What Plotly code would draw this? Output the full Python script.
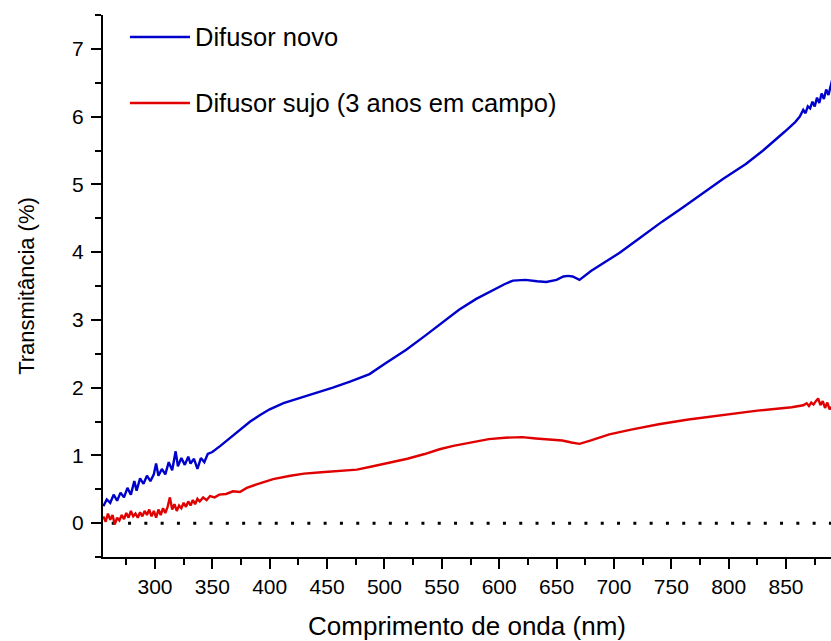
import plotly.graph_objects as go

# --- Data ---
novo_x = [255, 258, 261, 264, 267, 270, 273, 276, 279, 282, 284, 287, 290, 293, 296, 299,
          301, 303, 306, 309, 312, 315, 318, 320, 323, 326, 329, 331, 334, 337, 340, 343,
          346, 350, 357, 365, 374, 383, 392, 400, 412, 425, 441, 455, 470, 480, 487, 500,
          519, 535, 548, 565, 580, 594, 605, 612, 623, 633, 641, 650, 656, 660, 664, 670,
          680, 693, 705, 722, 742, 760, 777, 795, 815, 830, 849, 858, 862, 865, 867, 869,
          871, 873, 875, 877, 879, 881, 883, 885, 887, 889, 891]
novo_y = [0.25, 0.35, 0.30, 0.42, 0.33, 0.45, 0.38, 0.52, 0.42, 0.62, 0.48, 0.66, 0.58, 0.70, 0.62, 0.72,
          0.88, 0.70, 0.80, 0.72, 0.90, 0.78, 1.06, 0.84, 0.96, 0.86, 0.98, 0.88, 0.95, 0.80, 0.96, 0.90,
          1.02, 1.05, 1.14, 1.25, 1.38, 1.50, 1.60, 1.68, 1.77, 1.84, 1.92, 2.00, 2.09, 2.16, 2.20, 2.35,
          2.56, 2.76, 2.93, 3.15, 3.31, 3.44, 3.53, 3.58, 3.59, 3.57, 3.56, 3.59, 3.64, 3.65, 3.64, 3.59,
          3.72, 3.86, 3.99, 4.20, 4.45, 4.66, 4.86, 5.08, 5.30, 5.50, 5.78, 5.92, 6.00, 6.10, 6.05, 6.15,
          6.12, 6.22, 6.15, 6.28, 6.20, 6.34, 6.26, 6.40, 6.32, 6.45, 6.60]

sujo_x = [255, 257, 259, 261, 263, 265, 267, 269, 271, 273, 275, 277, 279, 281, 283, 285, 287,
          289, 291, 293, 295, 297, 299, 301, 303, 305, 307, 309, 311, 313, 315, 317, 319, 321,
          323, 325, 327, 329, 331, 333, 335, 337, 339, 342, 345, 348, 352, 356, 362, 368, 374,
          380, 390, 403, 418, 430, 445, 460, 476, 490, 505, 520, 535, 548, 560, 575, 591, 605,
          620, 632, 645, 655, 663, 670, 680, 696, 715, 739, 765, 797, 825, 855, 865, 868, 870,
          872, 874, 876, 878, 880, 882, 884, 886, 888, 890]
sujo_y = [0.10, 0.02, 0.14, 0.05, 0.12, -0.02, 0.08, 0.04, 0.12, 0.06, 0.15, 0.08, 0.18, 0.10, 0.14, 0.08, 0.16,
          0.10, 0.18, 0.12, 0.20, 0.10, 0.18, 0.08, 0.20, 0.12, 0.22, 0.15, 0.24, 0.38, 0.20, 0.28, 0.18, 0.26,
          0.22, 0.30, 0.24, 0.32, 0.26, 0.34, 0.28, 0.36, 0.32, 0.38, 0.34, 0.40, 0.38, 0.42, 0.43, 0.47, 0.46,
          0.52, 0.58, 0.65, 0.70, 0.73, 0.75, 0.77, 0.79, 0.84, 0.89, 0.95, 1.02, 1.09, 1.14, 1.19, 1.24, 1.26,
          1.27, 1.25, 1.23, 1.22, 1.19, 1.17, 1.22, 1.31, 1.38, 1.46, 1.53, 1.60, 1.66, 1.71, 1.74, 1.77, 1.73,
          1.78, 1.75, 1.80, 1.84, 1.74, 1.80, 1.70, 1.78, 1.68, 1.72]

labels = ["Difusor novo", "Difusor sujo (3 anos em campo)"]
colors = ["#0000CC", "#E00000"]

FONT = "Liberation Sans, Arial, sans-serif"

fig = go.Figure()
fig.add_trace(go.Scatter(x=novo_x, y=novo_y, mode="lines", name=labels[0],
                         line=dict(color=colors[0], width=2.4), showlegend=False))
fig.add_trace(go.Scatter(x=sujo_x, y=sujo_y, mode="lines", name=labels[1],
                         line=dict(color=colors[1], width=2.4), showlegend=False))

# dotted zero line
fig.add_shape(type="line", xref="paper", yref="y", x0=0.012, x1=1, y0=0, y1=0,
              line=dict(color="black", width=3, dash="3px,13.3px"), layer="below")

# manual legend
leg_y = [0.9594, 0.8376]
for lab, col, yy in zip(labels, colors, leg_y):
    fig.add_shape(type="line", xref="paper", yref="paper", x0=0.037, x1=0.1195, y0=yy, y1=yy,
                  line=dict(color=col, width=2.4))
    fig.add_annotation(xref="paper", yref="paper", x=0.124, y=yy, text=lab, showarrow=False,
                       xanchor="left", yanchor="middle", font=dict(size=25.5, color="black", family=FONT))

axis_common = dict(showline=True, linecolor="black", linewidth=2, ticks="outside",
                   ticklen=10, tickwidth=2, tickcolor="black", showgrid=False, zeroline=False,
                   mirror=False, tickfont=dict(size=21, color="black", family=FONT))

fig.update_xaxes(range=[254.7, 889.2], tick0=300, dtick=50,
                 minor=dict(ticks="outside", ticklen=6, tickwidth=2, tickcolor="black", dtick=25, tick0=275),
                 title=dict(text="Comprimento de onda (nm)", font=dict(size=26, color="black", family=FONT),
                            standoff=25),
                 **axis_common)
fig.update_yaxes(range=[-0.5, 7.5], tick0=0, dtick=1, ticklabelstandoff=3,
                 minor=dict(ticks="outside", ticklen=6, tickwidth=2, tickcolor="black", dtick=0.5, tick0=0),
                 title=dict(text="Transmitância (%)", font=dict(size=22, color="black", family=FONT),
                            standoff=31),
                 **axis_common)

fig.update_layout(width=831, height=641, plot_bgcolor="white", paper_bgcolor="white",
                  margin=dict(l=103, r=0, t=15, b=84, autoexpand=False),
                  font=dict(family=FONT, color="black"))

fig.write_html("out.html", config={"displayModeBar": False},
               post_script="document.body.style.margin='0';document.body.style.overflow='hidden';")
